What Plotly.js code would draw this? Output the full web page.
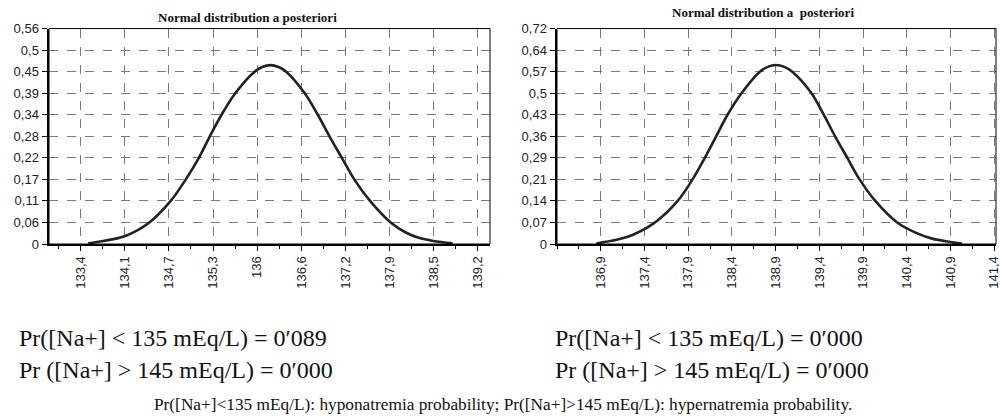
<!DOCTYPE html>
<html>
<head>
<meta charset="utf-8">
<script src="https://cdn.plot.ly/plotly-3.0.1.min.js"></script>
<style>
html,body{margin:0;padding:0;background:#fff;}
#chart{width:1000px;height:420px;}
</style>
</head>
<body>
<div id="chart"></div>
<script>
// ---- Data ----
const leftX = [133.53,133.75,134.07,134.42,134.73,134.95,135.14,135.30,135.47,135.67,135.95,136.06,136.18,136.30,136.41,136.68,136.87,137.04,137.22,137.40,137.63,137.93,138.15,138.34,138.55,138.83];
const leftY = [0.002,0.008,0.021,0.056,0.112,0.168,0.224,0.280,0.336,0.392,0.448,0.460,0.465,0.460,0.448,0.392,0.336,0.280,0.224,0.168,0.112,0.056,0.030,0.016,0.008,0.002];

const rightX = [136.85,137.08,137.27,137.52,137.78,137.95,138.09,138.22,138.35,138.51,138.72,138.81,138.90,139.00,139.09,139.31,139.45,139.58,139.72,139.86,140.04,140.29,140.50,140.69,140.90,141.03];
const rightY = [0.002,0.014,0.031,0.072,0.144,0.216,0.288,0.360,0.432,0.504,0.576,0.592,0.598,0.592,0.576,0.504,0.432,0.360,0.288,0.216,0.144,0.072,0.038,0.018,0.007,0.002];

const leftXTickVals = [133.42,134.062,134.704,135.347,135.989,136.631,137.273,137.915,138.558,139.20];
const leftXTickText = ['133,4','134,1','134,7','135,3','136','136,6','137,2','137,9','138,5','139,2'];
const rightXTickVals = [136.9,137.4,137.9,138.4,138.9,139.4,139.9,140.4,140.9,141.4];
const rightXTickText = ['136,9','137,4','137,9','138,4','138,9','139,4','139,9','140,4','140,9','141,4'];

const leftYTickVals = [0,0.056,0.112,0.168,0.224,0.28,0.336,0.392,0.448,0.504,0.56];
const leftYTickText = ['0','0,06','0,11','0,17','0,22','0,28','0,34','0,39','0,45','0,5','0,56'];
const rightYTickVals = [0,0.072,0.144,0.216,0.288,0.36,0.432,0.504,0.576,0.648,0.72];
const rightYTickText = ['0','0,07','0,14','0,21','0,29','0,36','0,43','0,5','0,57','0,64','0,72'];

const chartTitles = ['Normal distribution a posteriori','Normal distribution a  posteriori'];
const leftProbText = ['Pr([Na+] < 135 mEq/L) = 0\u2032089','Pr ([Na+] > 145 mEq/L) = 0\u2032000'];
const rightProbText = ['Pr([Na+] < 135 mEq/L) = 0\u2032000','Pr ([Na+] > 145 mEq/L) = 0\u2032000'];
const captionText = 'Pr([Na+]<135 mEq/L): hyponatremia probability; Pr([Na+]>145 mEq/L): hypernatremia probability.';

// ---- Styling ----
const tickFont = {family:'Liberation Sans, Arial, sans-serif', size:13, color:'#222'};
const serif = 'Liberation Serif, Times New Roman, serif';
const lineStyle = {color:'#222', width:2.6, shape:'spline', smoothing:1};

function xAxis(domain, range, vals, text, anchor){
  const step = vals[1]-vals[0];
  return {
    domain, range, anchor, tickmode:'array', tickvals:vals, ticktext:text,
    tickangle:-90, tickfont:tickFont, ticks:'outside', ticklen:5, tickcolor:'#000',
    ticklabeloverflow:'allow',
    showgrid:true, gridcolor:'#7a7a7a', griddash:'dash', gridwidth:1,
    showline:true, linecolor:'#000', linewidth:2, zeroline:false, fixedrange:true,
    minor:{tickmode:'linear', tick0:vals[0]-step/2, dtick:step/2, ticks:'outside', ticklen:3, tickcolor:'#000', showgrid:false}
  };
}
function yAxis(range, vals, text, anchor){
  return {
    domain:[0.419,0.932], range, anchor, tickmode:'array', tickvals:vals, ticktext:text,
    tickfont:tickFont, ticks:'outside', ticklen:5, tickcolor:'#000',
    showgrid:true, gridcolor:'#7a7a7a', griddash:'dash', gridwidth:1,
    showline:true, linecolor:'#000', linewidth:2.5, zeroline:false, fixedrange:true
  };
}

const data = [
  {x:leftX, y:leftY, xaxis:'x', yaxis:'y', mode:'lines', line:lineStyle, hoverinfo:'skip'},
  {x:rightX, y:rightY, xaxis:'x2', yaxis:'y2', mode:'lines', line:lineStyle, hoverinfo:'skip'}
];

const probFont = {family:serif, size:24, color:'#111'};
const annotations = [
  {text:'<b>'+chartTitles[0]+'</b>', x:0.247, y:0.9595, xref:'paper', yref:'paper', showarrow:false, xanchor:'center', yanchor:'middle', font:{family:serif, size:13, color:'#111'}},
  {text:'<b>'+chartTitles[1]+'</b>', x:0.763, y:0.97, xref:'paper', yref:'paper', showarrow:false, xanchor:'center', yanchor:'middle', font:{family:serif, size:13, color:'#111'}},
  {text:leftProbText[0], x:0.017, y:0.195, xref:'paper', yref:'paper', showarrow:false, xanchor:'left', yanchor:'middle', font:probFont},
  {text:leftProbText[1], x:0.017, y:0.119, xref:'paper', yref:'paper', showarrow:false, xanchor:'left', yanchor:'middle', font:probFont},
  {text:rightProbText[0], x:0.553, y:0.195, xref:'paper', yref:'paper', showarrow:false, xanchor:'left', yanchor:'middle', font:probFont},
  {text:rightProbText[1], x:0.553, y:0.119, xref:'paper', yref:'paper', showarrow:false, xanchor:'left', yanchor:'middle', font:probFont},
  {text:captionText, x:0.503, y:0.038, xref:'paper', yref:'paper', showarrow:false, xanchor:'center', yanchor:'middle', font:{family:serif, size:17.3, color:'#111'}}
];

const shapes = [
  {type:'rect', xref:'x domain', yref:'y domain', x0:0, x1:1, y0:0, y1:1, line:{color:'#000', width:1}, layer:'above'},
  {type:'rect', xref:'x2 domain', yref:'y2 domain', x0:0, x1:1, y0:0, y1:1, line:{color:'#000', width:1}, layer:'above'}
];

const layout = {
  width:1000, height:420, margin:{l:0, r:0, t:0, b:0},
  paper_bgcolor:'#fff', plot_bgcolor:'#fff', showlegend:false,
  xaxis: xAxis([0.049,0.490], [132.96,139.375], leftXTickVals, leftXTickText, 'y'),
  yaxis: yAxis([0,0.56], leftYTickVals, leftYTickText, 'x'),
  xaxis2: xAxis([0.557,0.996], [136.40,141.42], rightXTickVals, rightXTickText, 'y2'),
  yaxis2: yAxis([0,0.72], rightYTickVals, rightYTickText, 'x2'),
  annotations, shapes
};

Plotly.newPlot('chart', data, layout, {displayModeBar:false, staticPlot:true});
</script>
</body>
</html>
